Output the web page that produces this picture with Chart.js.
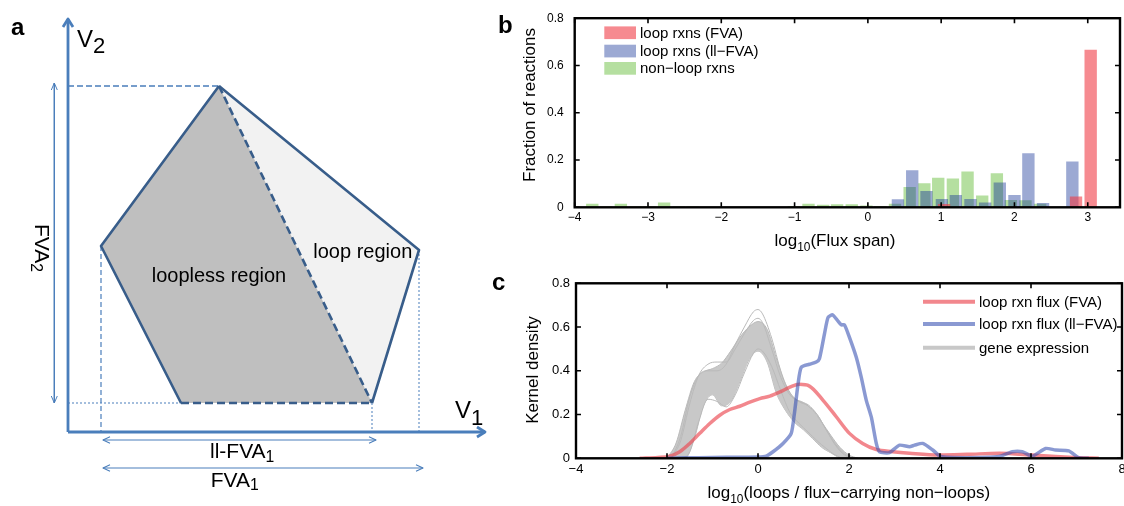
<!DOCTYPE html>
<html>
<head>
<meta charset="utf-8">
<script src="https://cdn.jsdelivr.net/npm/chart.js@4.4.1/dist/chart.umd.min.js"></script>
<style>
  html, body { margin: 0; padding: 0; background: #fff; overflow: hidden; }
  #wrap { position: relative; width: 1124px; height: 506px; }
  canvas { position: absolute; }
</style>
</head>
<body>
<div id="wrap">
  <canvas id="chartA" width="500" height="506" style="left:0;top:0"></canvas>
  <canvas id="chartB" width="639" height="255" style="left:485px;top:0"></canvas>
  <canvas id="chartC" width="650" height="251" style="left:485px;top:255px"></canvas>
</div>
<script>
const FONT = "'Liberation Sans', Arial, Helvetica, sans-serif";
Chart.defaults.font.family = FONT;
Chart.defaults.color = '#000';
Chart.defaults.animation = false;
Chart.defaults.events = [];
Chart.defaults.plugins.legend.display = false;
Chart.defaults.plugins.tooltip.enabled = false;

// ---------- panel a: flux-space diagram, vertices in (v1, v2) units ----------
const vTop = [15.1, 34.6];
const vLeft = [3.3, 18.6];
const vBotL = [11.3, 2.9];
const vBotR = [30.4, 2.9];
const vRight = [35.1, 18.2];
const axisV1 = [[0, 0], [41.7, 0]];
const axisV2 = [[0, 0], [0, 41.3]];
const dimFVA2 = [[-1.37, 34.9], [-1.37, 2.9]];
const dimLLFVA1 = [[3.5, -0.8], [30.8, -0.8]];
const dimFVA1 = [[3.5, -3.6], [35.5, -3.6]];

// ---------- panel b: histogram of flux spans ----------
const bTicksX = [-4, -3, -2, -1, 0, 1, 2, 3];
const bTicksY = [0, 0.2, 0.4, 0.6, 0.8];
const bLegend = ['loop rxns (FVA)', 'loop rxns (ll\u2212FVA)', 'non\u2212loop rxns'];
const fvaBinX = [1.04, 2.84, 3.04];
const fvaFrac = [0.013, 0.044, 0.665];
const llfvaBinX = [0.41, 0.605, 0.80, 1.01, 1.20, 1.40, 1.60, 1.80, 2.00, 2.19, 2.39, 2.79];
const llfvaFrac = [0.033, 0.155, 0.068, 0.034, 0.051, 0.034, 0.019, 0.104, 0.051, 0.227, 0.017, 0.192];
const nonLoopBinX = [-3.76, -3.57, -3.37, -3.17, -2.98, -2.78, -2.58, -2.39, -1.01, -0.81, -0.61, -0.42, -0.22,
                     -0.02, 0.17, 0.37, 0.57, 0.77, 0.96, 1.16, 1.36, 1.56, 1.76, 1.95, 2.15, 2.35];
const nonLoopFrac = [0.014, 0.002, 0.014, 0.002, 0.002, 0.019, 0.002, 0.002, 0.004, 0.014, 0.009, 0.011, 0.011,
                     0.006, 0.004, 0.014, 0.085, 0.100, 0.124, 0.120, 0.150, 0.048, 0.143, 0.030, 0.028, 0.014];

// ---------- panel c: kernel densities ----------
const cTicksX = [-4, -2, 0, 2, 4, 6, 8];
const cTicksY = [0, 0.2, 0.4, 0.6, 0.8];
const cLegend = ['loop rxn flux (FVA)', 'loop rxn flux (ll\u2212FVA)', 'gene expression'];
const fvaDensX = [-2.6, -2.2, -1.94, -1.72, -1.5, -1.28, -1.06, -0.84, -0.62, -0.4, -0.18, 0.04, 0.26, 0.5, 0.7,
                  0.91, 1.13, 1.43, 1.72, 2.01, 2.3, 2.6, 2.96, 3.33, 3.98, 4.6, 5.3, 6.03, 6.54, 7.05, 7.49];
const fvaDens = [0, 0.004, 0.01, 0.03, 0.068, 0.114, 0.159, 0.197, 0.223, 0.238, 0.257, 0.273, 0.284, 0.305, 0.325,
                 0.338, 0.33, 0.265, 0.19, 0.114, 0.068, 0.04, 0.03, 0.023, 0.015, 0.018, 0.023, 0.015, 0.008, 0.003, 0];
const llfvaDensX = [-2.0, -1.6, -1.0, -0.4, 0.0, 0.18, 0.33, 0.55, 0.73, 0.80, 0.88, 0.95, 1.13, 1.28, 1.35, 1.46,
                    1.54, 1.64, 1.75, 1.83, 1.90, 2.01, 2.16, 2.27, 2.38, 2.49, 2.60, 2.67, 2.89, 3.11, 3.33, 3.44,
                    3.62, 3.84, 4.02, 4.57, 5.3, 5.59, 5.81, 6.03, 6.32, 6.54, 6.83, 7.05, 7.27];
const llfvaDens = [0, 0.002, 0.004, 0.005, 0.006, 0.01, 0.03, 0.068, 0.114, 0.205, 0.34, 0.416, 0.43, 0.44, 0.455,
                   0.568, 0.644, 0.656, 0.629, 0.61, 0.61, 0.553, 0.462, 0.37, 0.265, 0.189, 0.068, 0.03, 0.026,
                   0.06, 0.053, 0.06, 0.068, 0.038, 0.008, 0.003, 0.008, 0.03, 0.03, 0.01, 0.045, 0.038, 0.034,
                   0.003, 0];
const geneX = [-2.0, -1.8, -1.6, -1.4, -1.2, -1.0, -0.8, -0.6, -0.4, -0.2, 0, 0.2, 0.4, 0.6, 0.8, 1.0, 1.2, 1.4,
               1.6, 1.8, 2.0, 2.2];
const geneUpper = [0, 0.07, 0.22, 0.35, 0.395, 0.41, 0.435, 0.49, 0.553, 0.60, 0.625, 0.59, 0.46, 0.34, 0.275,
                   0.255, 0.22, 0.165, 0.105, 0.05, 0.015, 0];
const geneLower = [0, 0, 0, 0.09, 0.24, 0.29, 0.24, 0.26, 0.35, 0.45, 0.49, 0.44, 0.30, 0.22, 0.165, 0.13, 0.09,
                   0.05, 0.025, 0.003, 0, 0];
const geneOddX = [-1.9, -1.7, -1.5, -1.3, -1.1, -0.9, -0.7, -0.5, -0.3, -0.1, 0, 0.1, 0.3, 0.5, 0.7, 0.9, 1.1, 1.3,
                  1.5, 1.7, 1.9, 2.1];
const genePeak = [0, 0.1, 0.28, 0.38, 0.40, 0.40, 0.43, 0.52, 0.60, 0.67, 0.68, 0.66, 0.55, 0.40, 0.30, 0.26, 0.24,
                  0.2, 0.13, 0.065, 0.02, 0];
const geneHigh = [0, 0.08, 0.25, 0.38, 0.43, 0.44, 0.44, 0.50, 0.57, 0.63, 0.64, 0.62, 0.50, 0.37, 0.29, 0.26, 0.245,
                  0.2, 0.13, 0.06, 0.015, 0];
const geneLate = [0, 0, 0.03, 0.17, 0.27, 0.26, 0.235, 0.29, 0.39, 0.48, 0.50, 0.49, 0.42, 0.31, 0.21, 0.16, 0.12,
                  0.08, 0.045, 0.015, 0, 0];

// ---------- helpers ----------
const pts = arr => arr.map(([x, y]) => ({x, y}));
const zip = (xs, ys) => xs.map((x, i) => ({x, y: ys[i]}));
const fmtX = v => (v < 0 ? '\u2212' + (-v) : String(v));
const fmtY = v => (v === 0 ? '0' : v.toFixed(1));

function rich(ctx, parts, x, y, size, align, subScale, drop) {
  const fontFor = sub => (sub ? size * subScale : size) + 'px ' + FONT;
  const widths = parts.map(([t, sub]) => { ctx.font = fontFor(sub); return ctx.measureText(t).width; });
  let cx = x;
  if (align === 'center') cx -= widths.reduce((a, b) => a + b, 0) / 2;
  ctx.textAlign = 'left';
  parts.forEach(([t, sub], i) => {
    ctx.font = fontFor(sub);
    ctx.fillText(t, cx, sub ? y + drop : y);
    cx += widths[i];
  });
}

function seg(points, color, width, dash, order) {
  return {data: pts(points), borderColor: color, borderWidth: width, borderDash: dash || [],
          pointRadius: 0, fill: false, tension: 0, order: order, borderJoinStyle: 'round'};
}

function chevron(tip, dir, len, half) {
  const [x, y] = tip;
  if (dir === 'up') return [[x - half, y - len], [x, y], [x + half, y - len]];
  if (dir === 'down') return [[x - half, y + len], [x, y], [x + half, y + len]];
  if (dir === 'right') return [[x - len, y + half], [x, y], [x - len, y - half]];
  return [[x + len, y + half], [x, y], [x + len, y - half]];
}

function boxFrame(id) {
  return {
    id,
    afterDatasetsDraw(chart) {
      const {ctx, chartArea: a, scales: {x, y}} = chart;
      ctx.save();
      ctx.strokeStyle = '#000';
      ctx.lineWidth = 1.6;
      ctx.beginPath();
      x.ticks.forEach(t => {
        const p = x.getPixelForValue(t.value);
        ctx.moveTo(p, a.bottom); ctx.lineTo(p, a.bottom - 5);
        ctx.moveTo(p, a.top); ctx.lineTo(p, a.top + 5);
      });
      y.ticks.forEach(t => {
        const p = y.getPixelForValue(t.value);
        ctx.moveTo(a.left, p); ctx.lineTo(a.left + 5, p);
        ctx.moveTo(a.right, p); ctx.lineTo(a.right - 5, p);
      });
      ctx.stroke();
      ctx.lineWidth = 2.4;
      ctx.strokeRect(a.left, a.top, a.right - a.left, a.bottom - a.top);
      ctx.restore();
    }
  };
}

function plotScales(ticksX, ticksY, xMin, xMax, fontSize, yPad, yWidth, xHeight) {
  return {
    x: {type: 'linear', min: xMin, max: xMax, offset: false,
        grid: {display: false, drawTicks: false}, border: {display: false},
        afterBuildTicks: s => { s.ticks = ticksX.map(value => ({value})); },
        ticks: {font: {size: fontSize}, padding: 3, color: '#000', callback: fmtX},
        afterFit: s => { s.height = xHeight; }},
    y: {type: 'linear', min: 0, max: 0.8,
        grid: {display: false, drawTicks: false}, border: {display: false},
        afterBuildTicks: s => { s.ticks = ticksY.map(value => ({value})); },
        ticks: {font: {size: fontSize}, padding: yPad, color: '#000', callback: fmtY},
        afterFit: s => { s.width = yWidth; }}
  };
}

// ---------- chart a ----------
const blue = '#4a7ebb';
const navy = '#385d8a';
const decorA = {
  id: 'decorA',
  afterDraw(chart) {
    const {ctx, scales: {x, y}} = chart;
    const X = v => x.getPixelForValue(v), Y = v => y.getPixelForValue(v);
    ctx.save();
    ctx.fillStyle = '#000';
    ctx.textBaseline = 'alphabetic';
    ctx.textAlign = 'left';
    ctx.font = 'bold 24px ' + FONT;
    ctx.fillText('a', 11, 35);
    rich(ctx, [['V'], ['2', 1]], X(0.9), Y(38.5), 24, 'left', 0.92, 6);
    rich(ctx, [['V'], ['1', 1]], X(38.7), Y(1.4), 24, 'left', 0.92, 7);
    ctx.font = '20px ' + FONT;
    ctx.fillText('loopless region', X(8.37), Y(15.03));
    ctx.fillText('loop region', X(24.53), Y(17.43));
    rich(ctx, [['ll-FVA'], ['1', 1]], X(14.2), Y(-2.6), 21, 'left', 0.75, 3.5);
    rich(ctx, [['FVA'], ['1', 1]], X(14.27), Y(-5.47), 21, 'left', 0.75, 3.5);
    ctx.translate(X(-3.3), Y(20.8));
    ctx.rotate(Math.PI / 2);
    rich(ctx, [['FVA'], ['2', 1]], 0, 0, 21, 'left', 0.75, 4);
    ctx.restore();
  }
};

new Chart(document.getElementById('chartA'), {
  type: 'line',
  data: {datasets: [
    {data: pts([vLeft, vTop, vBotR]), fill: 1, backgroundColor: '#bfbfbf', borderColor: 'transparent',
     borderWidth: 0, pointRadius: 0, order: 10},
    {data: pts([vLeft, vBotL, vBotR]), fill: false, borderColor: 'transparent', borderWidth: 0, pointRadius: 0, order: 10},
    {data: pts([vTop, vRight]), fill: 3, backgroundColor: '#f2f2f2', borderColor: 'transparent',
     borderWidth: 0, pointRadius: 0, order: 10},
    {data: pts([vTop, vBotR, vRight]), fill: false, borderColor: 'transparent', borderWidth: 0, pointRadius: 0, order: 10},
    // guide lines to the axes
    seg([[0, vTop[1]], vTop], blue, 1.4, [6, 3], 5),
    seg([[0, vBotL[1]], vBotL], blue, 1, [2, 2], 5),
    seg([vLeft, [vLeft[0], 0]], blue, 1.2, [5, 3], 5),
    seg([vBotR, [vBotR[0], 0]], blue, 1, [2, 2], 5),
    seg([vRight, [vRight[0], 0]], blue, 1, [2, 2], 5),
    // polygon outline
    seg([vTop, vRight, vBotR], navy, 2.6, null, 2),
    seg([vBotL, vLeft, vTop], navy, 2.6, null, 2),
    seg([vBotL, vBotR], navy, 2.6, [8, 4], 2),
    seg([vTop, vBotR], navy, 2.6, [8, 4], 2),
    // axes and arrows
    seg(axisV1, blue, 2.8, null, 0),
    seg(axisV2, blue, 2.8, null, 0),
    seg(chevron(axisV1[1], 'right', 0.8, 0.5), blue, 2.8, null, 0),
    seg(chevron(axisV2[1], 'up', 0.8, 0.5), blue, 2.8, null, 0),
    seg(dimFVA2, blue, 1, null, 0),
    seg(chevron(dimFVA2[0], 'up', 0.7, 0.3), blue, 1, null, 0),
    seg(chevron(dimFVA2[1], 'down', 0.7, 0.3), blue, 1, null, 0),
    seg(dimLLFVA1, blue, 1.1, null, 0),
    seg(chevron(dimLLFVA1[0], 'left', 0.7, 0.32), blue, 1.1, null, 0),
    seg(chevron(dimLLFVA1[1], 'right', 0.7, 0.32), blue, 1.1, null, 0),
    seg(dimFVA1, blue, 1.1, null, 0),
    seg(chevron(dimFVA1[0], 'left', 0.7, 0.32), blue, 1.1, null, 0),
    seg(chevron(dimFVA1[1], 'right', 0.7, 0.32), blue, 1.1, null, 0)
  ]},
  options: {
    responsive: false, devicePixelRatio: 1,
    layout: {padding: 0},
    scales: {
      x: {type: 'linear', min: -6.8, max: 43.2, display: false},
      y: {type: 'linear', min: -7.4, max: 43.2, display: false}
    }
  },
  plugins: [decorA]
});

// ---------- chart b ----------
const bColors = ['rgba(240,60,70,0.6)', 'rgba(20,50,150,0.42)', 'rgb(181,223,160)'];
const decorB = {
  id: 'decorB',
  afterDraw(chart) {
    const {ctx} = chart;
    ctx.save();
    ctx.fillStyle = '#000';
    ctx.textBaseline = 'alphabetic';
    ctx.textAlign = 'left';
    ctx.font = 'bold 24px ' + FONT;
    ctx.fillText('b', 13, 33);
    rich(ctx, [['log'], ['10', 1], ['(Flux span)']], 350, 246, 17, 'center', 0.7, 5);
    ctx.save();
    ctx.translate(45, 105);
    ctx.rotate(-Math.PI / 2);
    ctx.font = '17px ' + FONT;
    ctx.textAlign = 'center';
    ctx.textBaseline = 'middle';
    ctx.fillText('Fraction of reactions', 0, 0);
    ctx.restore();
    const rowY = [32.7, 51, 68.3];
    bLegend.forEach((label, i) => {
      ctx.fillStyle = bColors[i];
      ctx.fillRect(119.3, rowY[i] - 6.3, 31.7, 12.7);
      ctx.fillStyle = '#000';
      ctx.font = '15px ' + FONT;
      ctx.textBaseline = 'middle';
      ctx.fillText(label, 155, rowY[i] + 1);
    });
    ctx.restore();
  }
};

new Chart(document.getElementById('chartB'), {
  type: 'bar',
  data: {datasets: [
    {label: bLegend[0], data: zip(fvaBinX, fvaFrac), backgroundColor: bColors[0]},
    {label: bLegend[1], data: zip(llfvaBinX, llfvaFrac), backgroundColor: bColors[1]},
    {label: bLegend[2], data: zip(nonLoopBinX, nonLoopFrac), backgroundColor: bColors[2]}
  ]},
  options: {
    responsive: false, devicePixelRatio: 1,
    layout: {padding: {top: 14.7, right: 4, left: 0, bottom: 0}},
    datasets: {bar: {grouped: false, barThickness: 11.7, borderWidth: 0}},
    scales: plotScales(bTicksX, bTicksY, -4, 3.44, 12, 11, 89.7, 47.7)
  },
  plugins: [boxFrame('frameB'), decorB]
});

// ---------- chart c ----------
const cColors = ['rgba(235,70,80,0.65)', 'rgba(60,85,180,0.6)', 'rgb(200,200,200)'];
const geneLine = 'rgb(186,186,186)';
const decorC = {
  id: 'decorC',
  afterDraw(chart) {
    const {ctx} = chart;
    ctx.save();
    ctx.fillStyle = '#000';
    ctx.textBaseline = 'alphabetic';
    ctx.textAlign = 'left';
    ctx.font = 'bold 24px ' + FONT;
    ctx.fillText('c', 7, 35);
    rich(ctx, [['log'], ['10', 1], ['(loops / flux\u2212carrying non\u2212loops)']], 363.8, 243, 17, 'center', 0.7, 5);
    ctx.save();
    ctx.translate(48, 115);
    ctx.rotate(-Math.PI / 2);
    ctx.font = '17px ' + FONT;
    ctx.textAlign = 'center';
    ctx.textBaseline = 'middle';
    ctx.fillText('Kernel density', 0, 0);
    ctx.restore();
    const rowY = [46.7, 69, 92.7];
    cLegend.forEach((label, i) => {
      ctx.strokeStyle = cColors[i];
      ctx.lineWidth = 4;
      ctx.beginPath();
      ctx.moveTo(438, rowY[i]);
      ctx.lineTo(490, rowY[i]);
      ctx.stroke();
      ctx.fillStyle = '#000';
      ctx.font = '15px ' + FONT;
      ctx.textBaseline = 'middle';
      ctx.fillText(label, 494, rowY[i] + 1);
    });
    ctx.restore();
  }
};

const geneStyle = {borderColor: geneLine, borderWidth: 1, pointRadius: 0, fill: false, cubicInterpolationMode: 'monotone', order: 2};
new Chart(document.getElementById('chartC'), {
  type: 'line',
  data: {datasets: [
    {label: cLegend[1], data: zip(llfvaDensX, llfvaDens), borderColor: cColors[1], borderWidth: 3.5,
     pointRadius: 0, fill: false, tension: 0.2, order: 0},
    {label: cLegend[0], data: zip(fvaDensX, fvaDens), borderColor: cColors[0], borderWidth: 3.5,
     pointRadius: 0, fill: false, cubicInterpolationMode: 'monotone', order: 1},
    Object.assign({data: zip(geneOddX, genePeak)}, geneStyle),
    Object.assign({data: zip(geneOddX, geneHigh)}, geneStyle),
    Object.assign({data: zip(geneOddX, geneLate)}, geneStyle),
    {label: cLegend[2], data: zip(geneX, geneUpper), borderColor: geneLine, borderWidth: 1, pointRadius: 0,
     fill: '+1', backgroundColor: cColors[2], cubicInterpolationMode: 'monotone', order: 3},
    {data: zip(geneX, geneLower), borderColor: geneLine, borderWidth: 1, pointRadius: 0, fill: false,
     cubicInterpolationMode: 'monotone', order: 3}
  ]},
  options: {
    responsive: false, devicePixelRatio: 1,
    layout: {padding: {top: 28.3, right: 13, left: 0, bottom: 0}},
    scales: plotScales(cTicksX, cTicksY, -4, 8, 13, 6, 91, 47.7)
  },
  plugins: [boxFrame('frameC'), decorC]
});
</script>
</body>
</html>
